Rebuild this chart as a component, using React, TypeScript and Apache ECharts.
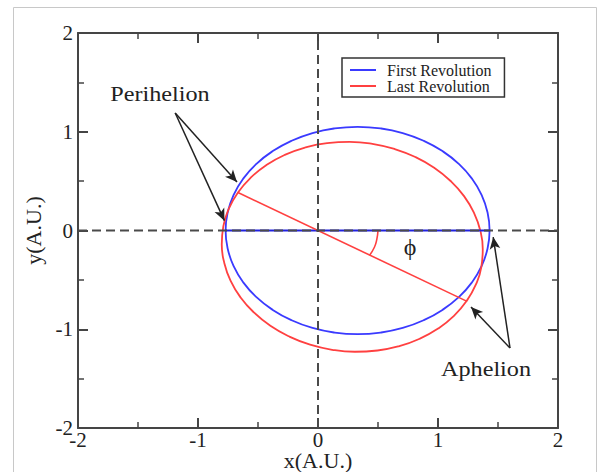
import React, { useEffect, useRef } from "react";
import * as echarts from "echarts";

// Orbit points (x, y in A.U.)
const firstRevolution: number[][] = [
  [1.43, 0], [1.413, 0.182], [1.364, 0.359], [1.283, 0.525], [1.173, 0.675], [1.037, 0.804],
  [0.88, 0.909], [0.706, 0.987], [0.521, 1.034], [0.33, 1.05], [0.139, 1.034], [-0.046, 0.987],
  [-0.22, 0.909], [-0.377, 0.804], [-0.513, 0.675], [-0.623, 0.525], [-0.704, 0.359], [-0.753, 0.182],
  [-0.77, 0], [-0.753, -0.182], [-0.704, -0.359], [-0.623, -0.525], [-0.513, -0.675], [-0.377, -0.804],
  [-0.22, -0.909], [-0.046, -0.987], [0.139, -1.034], [0.33, -1.05], [0.521, -1.034], [0.706, -0.987],
  [0.88, -0.909], [1.037, -0.804], [1.173, -0.675], [1.283, -0.525], [1.364, -0.359], [1.413, -0.182],
  [1.43, 0],
];
const lastRevolution: number[][] = [
  [1.238, -0.715], [1.315, -0.549], [1.361, -0.371], [1.373, -0.187], [1.353, -0.002], [1.3, 0.178],
  [1.217, 0.348], [1.105, 0.501], [0.968, 0.635], [0.811, 0.744], [0.637, 0.826], [0.453, 0.878],
  [0.264, 0.898], [0.076, 0.885], [-0.106, 0.841], [-0.277, 0.766], [-0.43, 0.663], [-0.561, 0.535],
  [-0.667, 0.385], [-0.744, 0.219], [-0.789, 0.041], [-0.802, -0.143], [-0.781, -0.328], [-0.729, -0.508],
  [-0.645, -0.678], [-0.533, -0.831], [-0.397, -0.965], [-0.239, -1.074], [-0.066, -1.156], [0.118, -1.208],
  [0.307, -1.228], [0.496, -1.215], [0.678, -1.171], [0.848, -1.096], [1.001, -0.993], [1.133, -0.865],
  [1.238, -0.715],
];
const firstAxis: number[][] = [[-0.77, 0], [1.43, 0]];
const lastAxis: number[][] = [[-0.667, 0.385], [1.238, -0.715]];
const angleArc: number[][] = [[0.5, 0], [0.49, -0.09], [0.47, -0.17], [0.43, -0.25]];
const horizontalDash: number[][] = [[-2, 0], [2, 0]];
const verticalDash: number[][] = [[0, -2], [0, 2]];

// Annotation arrows: [start, tip]
const perihelionArrows: number[][][] = [
  [[-1.19, 1.19], [-0.675, 0.49]],
  [[-1.19, 1.19], [-0.78, 0.1]],
];
const aphelionArrows: number[][][] = [
  [[1.6, -1.19], [1.275, -0.775]],
  [[1.6, -1.19], [1.46, -0.066]],
];

const seriesNames = ["First Revolution", "Last Revolution"];
const xRange = [-2, 2];
const yRange = [-2, 2];

const SERIF = '"Liberation Serif", "Times New Roman", serif';
const AXIS_COLOR = "#454545";
const BLUE = "#3a3aff";
const RED = "#ff4040";

export default function App() {
  const ref = useRef<HTMLDivElement>(null);

  useEffect(() => {
    if (!ref.current) return;
    const chart = echarts.init(ref.current, null, { renderer: "svg" });

    const baseAxis = (position: string, showLabel: boolean, range: number[]) => ({
      type: "value",
      position,
      min: range[0],
      max: range[1],
      interval: 1,
      axisLine: { show: true, onZero: false, lineStyle: { color: AXIS_COLOR, width: 2 } },
      axisTick: { show: true, inside: true, length: 10, lineStyle: { color: AXIS_COLOR, width: 2 } },
      minorTick: { show: true, splitNumber: 2, length: 6, lineStyle: { color: AXIS_COLOR, width: 1.5 } },
      splitLine: { show: false },
      minorSplitLine: { show: false },
      axisLabel: {
        show: showLabel,
        fontFamily: SERIF,
        fontSize: 21,
        lineHeight: 16,
        color: "#222",
        margin: position === "bottom" ? 4 : 5,
      },
    });

    const arrowLines = [...perihelionArrows, ...aphelionArrows].map((a) => [
      { coord: a[0] },
      { coord: a[1] },
    ]);

    chart.setOption({
      animation: false,
      backgroundColor: "#ffffff",
      grid: {
        left: 78,
        top: 33,
        right: 40,
        bottom: 44,
        containLabel: false,
        outerBoundsMode: "none",
      },
      xAxis: [
        {
          ...baseAxis("bottom", true, xRange),
          name: "x(A.U.)",
          nameLocation: "middle",
          nameGap: 23,
          nameMoveOverlap: false,
          nameTextStyle: { fontFamily: SERIF, fontSize: 22, lineHeight: 18, color: "#222" },
        },
        baseAxis("top", false, xRange),
      ],
      yAxis: [
        {
          ...baseAxis("left", true, yRange),
          name: "y(A.U.)",
          nameLocation: "middle",
          nameGap: 35,
          nameMoveOverlap: false,
          nameTextStyle: { fontFamily: SERIF, fontSize: 22, lineHeight: 20, color: "#222" },
        },
        baseAxis("right", false, yRange),
      ],
      legend: {
        data: seriesNames.map((n) => ({ name: n, icon: "rect" })),
        orient: "vertical",
        left: 342,
        top: 58,
        padding: [4, 13, 3, 8],
        itemGap: 0,
        itemWidth: 26,
        itemHeight: 2,
        borderColor: "#333",
        borderWidth: 1.5,
        textStyle: { fontFamily: SERIF, fontSize: 16, color: "#222", lineHeight: 14, padding: [0, 0, 0, 6] },
      },
      series: [
        {
          name: seriesNames[0],
          type: "line",
          data: firstRevolution,
          smooth: 0.5,
          symbol: "none",
          showSymbol: false,
          lineStyle: { color: BLUE, width: 1.8 },
          itemStyle: { color: BLUE },
          z: 3,
        },
        {
          name: seriesNames[1],
          type: "line",
          data: lastRevolution,
          smooth: 0.5,
          symbol: "none",
          showSymbol: false,
          lineStyle: { color: RED, width: 1.8 },
          itemStyle: { color: RED },
          z: 3,
        },
        {
          name: "firstAxis",
          type: "line",
          data: firstAxis,
          symbol: "none",
          lineStyle: { color: "#2020e0", width: 2 },
          z: 4,
        },
        {
          name: "lastAxis",
          type: "line",
          data: lastAxis,
          symbol: "none",
          lineStyle: { color: RED, width: 1.6 },
          z: 4,
        },
        {
          name: "angle",
          type: "line",
          data: angleArc,
          smooth: true,
          symbol: "none",
          lineStyle: { color: RED, width: 1.6 },
          z: 4,
        },
        {
          name: "hdash",
          type: "line",
          data: horizontalDash,
          symbol: "none",
          lineStyle: { color: "#4a4a4a", width: 2, type: [9, 5] },
          z: 5,
        },
        {
          name: "vdash",
          type: "line",
          data: verticalDash,
          symbol: "none",
          lineStyle: { color: "#4a4a4a", width: 2, type: [9, 5] },
          z: 5,
          markLine: {
            silent: true,
            symbol: ["none", "arrow"],
            symbolSize: [8, 12],
            label: { show: false },
            lineStyle: { color: "#222", width: 1.5, type: "solid" },
            data: arrowLines,
          },
        },
      ],
      graphic: [
        {
          type: "rect",
          shape: { x: 13.5, y: 7.5, width: 583, height: 480 },
          style: { fill: "none", stroke: "#c8c8c8", lineWidth: 1 },
          z: -1,
          silent: true,
        },
        {
          type: "text",
          x: 160,
          y: 93,
          scaleX: 1.1,
          style: {
            text: "Perihelion",
            fontFamily: SERIF,
            fontSize: 22,
            fill: "#222",
            align: "center",
            verticalAlign: "middle",
            textAlign: "center",
            textVerticalAlign: "middle",
          },
          z: 10,
        },
        {
          type: "text",
          x: 486,
          y: 368,
          scaleX: 1.1,
          style: {
            text: "Aphelion",
            fontFamily: SERIF,
            fontSize: 22,
            fill: "#222",
            align: "center",
            verticalAlign: "middle",
            textAlign: "center",
            textVerticalAlign: "middle",
          },
          z: 10,
        },
        {
          type: "text",
          x: 410,
          y: 247,
          style: {
            text: "ϕ",
            fontFamily: SERIF,
            fontSize: 24,
            fill: "#222",
            align: "center",
            verticalAlign: "middle",
            textAlign: "center",
            textVerticalAlign: "middle",
          },
          z: 10,
        },
      ],
    });

    return () => chart.dispose();
  }, []);

  return (
    <div
      ref={ref}
      style={{ position: "fixed", left: 0, top: 0, width: 598, height: 472 }}
    />
  );
}
